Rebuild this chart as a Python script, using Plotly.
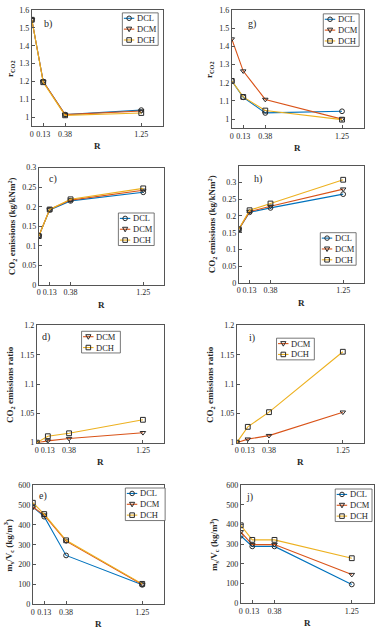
import plotly.graph_objects as go

W, H = 377, 633
R = [0, 0.13, 0.38, 1.25]
R_TICKS = ["0", "0.13", "0.38", "1.25"]

# panel b) r_CO2
b_DCL = [1.545, 1.200, 1.015, 1.040]
b_DCM = [1.545, 1.200, 1.015, 1.035]
b_DCH = [1.545, 1.196, 1.011, 1.024]
# panel g) r_CO2
g_DCL = [1.210, 1.120, 1.034, 1.043]
g_DCM = [1.440, 1.264, 1.108, 1.000]
g_DCH = [1.210, 1.122, 1.047, 0.997]
# panel c) CO2 emissions
c_DCL = [0.125, 0.192, 0.215, 0.237]
c_DCM = [0.125, 0.193, 0.217, 0.242]
c_DCH = [0.125, 0.193, 0.219, 0.247]
# panel h) CO2 emissions
h_DCL = [0.160, 0.211, 0.224, 0.265]
h_DCM = [0.160, 0.213, 0.229, 0.280]
h_DCH = [0.160, 0.217, 0.237, 0.308]
# panel d) CO2 emissions ratio
d_DCM = [1.000, 1.003, 1.007, 1.017]
d_DCH = [1.000, 1.011, 1.016, 1.039]
# panel i) CO2 emissions ratio
i_DCM = [1.000, 1.006, 1.012, 1.052]
i_DCH = [1.000, 1.027, 1.052, 1.155]
# panel e) ms/Vc
e_DCL = [490, 441, 246, 98]
e_DCM = [490, 449, 318, 100]
e_DCH = [511, 454, 322, 103]
# panel j) ms/Vc
j_DCL = [343, 289, 289, 96]
j_DCM = [363, 298, 298, 146]
j_DCH = [396, 322, 322, 229]

COL = {"DCL": "#0072BD", "DCM": "#D95319", "DCH": "#EDB120"}
SYM = {"DCL": "circle-open", "DCM": "triangle-down-open", "DCH": "square-open"}
MK = "#2a2a2a"
FONT = "Liberation Serif, Times New Roman, serif"

ytitle_r = "r<sub>CO2</sub>"
ytitle_e = "CO<sub>2</sub> emissions (kg/kNm<sup>2</sup>)"
ytitle_ratio = "CO<sub>2</sub> emissions ratio"
ytitle_m = "m<sub>s</sub>/V<sub>c</sub> (kg/m<sup>3</sup>)"

panels = [
    ("b)", {"DCL": b_DCL, "DCM": b_DCM, "DCH": b_DCH}, (30, 162, 6, 124), [0.95, 1.6],
     [1, 1.1, 1.2, 1.3, 1.4, 1.5, 1.6], ytitle_r, 8, (121, 9, 36), (40, 20)),
    ("g)", {"DCL": g_DCL, "DCM": g_DCM, "DCH": g_DCH}, (231, 364, 6, 126), [0.95, 1.6],
     [1, 1.1, 1.2, 1.3, 1.4, 1.5, 1.6], ytitle_r, 208, (323, 10, 36), (245, 20)),
    ("c)", {"DCL": c_DCL, "DCM": c_DCM, "DCH": c_DCH}, (37, 163, 166, 285), [0, 0.3],
     [0, 0.05, 0.1, 0.15, 0.2, 0.25, 0.3], ytitle_e, 10, (117, 212, 36), (45, 178)),
    ("h)", {"DCL": h_DCL, "DCM": h_DCM, "DCH": h_DCH}, (238, 364, 164, 283), [0, 0.35],
     [0, 0.05, 0.1, 0.15, 0.2, 0.25, 0.3], ytitle_e, 211, (320, 232, 36), (251, 178)),
    ("d)", {"DCM": d_DCM, "DCH": d_DCH}, (35, 163, 326, 445), [1, 1.2],
     [1, 1.05, 1.1, 1.15, 1.2], ytitle_ratio, 8, (80, 332, 39), (38, 338)),
    ("i)", {"DCM": i_DCM, "DCH": i_DCH}, (236, 364, 326, 445), [1, 1.2],
     [1, 1.05, 1.1, 1.15, 1.2], ytitle_ratio, 209, (276, 339, 38), (246, 339)),
    ("e)", {"DCL": e_DCL, "DCM": e_DCM, "DCH": e_DCH}, (31, 163, 488, 609), [0, 600],
     [0, 100, 200, 300, 400, 500, 600], ytitle_m, 7, (124, 491, 40), (35, 499)),
    ("j)", {"DCL": j_DCL, "DCM": j_DCM, "DCH": j_DCH}, (240, 374, 488, 608), [0, 600],
     [0, 100, 200, 300, 400, 500, 600], ytitle_m, 213, (335, 492, 37), (243, 500)),
]


def px(x):
    return x / W


def py(y):
    return 1 - y / H


fig = go.Figure()
layout = dict(width=W, height=H, margin=dict(l=0, r=0, t=0, b=0),
              paper_bgcolor="white", plot_bgcolor="white", showlegend=False,
              font=dict(family=FONT, size=8, color="#262626"), annotations=[], shapes=[])


def legend_marker(sym, cx, cy):
    r = 2.3
    if sym.startswith("circle"):
        return dict(type="circle", xref="paper", yref="paper", x0=px(cx - r), x1=px(cx + r),
                    y0=py(cy + r), y1=py(cy - r), line=dict(color=MK, width=1),
                    fillcolor="rgba(0,0,0,0)")
    if sym.startswith("square"):
        return dict(type="rect", xref="paper", yref="paper", x0=px(cx - r), x1=px(cx + r),
                    y0=py(cy + r), y1=py(cy - r), line=dict(color=MK, width=1),
                    fillcolor="rgba(0,0,0,0)")
    path = "M {:.5f},{:.5f} L {:.5f},{:.5f} L {:.5f},{:.5f} Z".format(
        px(cx - 2.6), py(cy - 2.0), px(cx + 2.6), py(cy - 2.0), px(cx), py(cy + 2.6))
    return dict(type="path", xref="paper", yref="paper", path=path,
                line=dict(color=MK, width=1), fillcolor="rgba(0,0,0,0)")


for k, (lab, series, box, yr, yt, ytitle, ytx, lg, labpos) in enumerate(panels):
    n = k + 1
    xa = "x" if n == 1 else f"x{n}"
    ya = "y" if n == 1 else f"y{n}"
    for name, vals in series.items():
        fig.add_trace(go.Scatter(
            x=R, y=vals, name=name, mode="lines+markers", xaxis=xa, yaxis=ya,
            line=dict(color=COL[name], width=1.1),
            marker=dict(symbol=SYM[name], size=4.8, color=MK, line=dict(width=1, color=MK)),
        ))
    x0, x1, y0, y1 = box
    axstyle = dict(showline=True, linecolor="#555", linewidth=0.8, mirror=True,
                   ticks="inside", ticklen=3, tickcolor="#555", showgrid=False,
                   zeroline=False, tickfont=dict(family=FONT, size=8, color="#262626"))
    layout["xaxis" if n == 1 else f"xaxis{n}"] = dict(
        domain=[x0 / W, x1 / W], anchor=ya, range=[0, 1.5], tickangle=0,
        tickvals=R, ticktext=R_TICKS, **axstyle)
    layout["yaxis" if n == 1 else f"yaxis{n}"] = dict(
        domain=[1 - y1 / H, 1 - y0 / H], anchor=xa, range=yr,
        tickvals=yt, **axstyle)

    # compact MATLAB-style legend
    lx, ly, lw = lg
    names = list(series.keys())
    step = 11
    lh = step * len(names)
    layout["shapes"].append(dict(type="rect", xref="paper", yref="paper",
                                 x0=px(lx), x1=px(lx + lw), y0=py(ly + lh), y1=py(ly),
                                 line=dict(color="#555", width=0.8), fillcolor="white"))
    for j, name in enumerate(names):
        cy = ly + step * (j + 0.5)
        layout["shapes"].append(dict(type="line", xref="paper", yref="paper",
                                     x0=px(lx + 1.5), x1=px(lx + 12), y0=py(cy), y1=py(cy),
                                     line=dict(color=COL[name], width=1.1)))
        layout["shapes"].append(legend_marker(SYM[name], lx + 6.8, cy))
        layout["annotations"].append(dict(text=name, x=px(lx + 12.5), y=py(cy),
                                          xref="paper", yref="paper", showarrow=False,
                                          xanchor="left", yanchor="middle",
                                          font=dict(family=FONT, size=8.5, color="#262626")))

    layout["annotations"].append(dict(text=lab, x=px(labpos[0]), y=py(labpos[1]),
                                      xref="paper", yref="paper", showarrow=False,
                                      xanchor="left", yanchor="middle",
                                      font=dict(family=FONT, size=10, color="#262626")))
    layout["annotations"].append(dict(text="<b>R</b>", x=px((x0 + x1) / 2),
                                      y=py(y1 + 20), xref="paper", yref="paper",
                                      showarrow=False, xanchor="center", yanchor="middle",
                                      font=dict(family=FONT, size=9, color="#262626")))
    layout["annotations"].append(dict(text="<b>" + ytitle + "</b>", x=px(ytx),
                                      y=py((y0 + y1) / 2), xref="paper", yref="paper",
                                      showarrow=False, textangle=-90, xanchor="center",
                                      yanchor="middle",
                                      font=dict(family=FONT, size=9, color="#262626")))

fig.update_layout(**layout)
fig.write_html("out.html")
